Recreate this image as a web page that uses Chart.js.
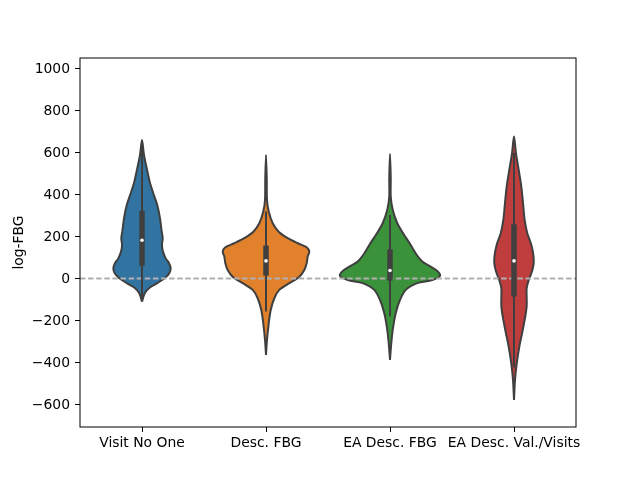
<!DOCTYPE html>
<html>
<head>
<meta charset="utf-8">
<script src="https://cdn.jsdelivr.net/npm/chart.js@4/dist/chart.umd.min.js"></script>
<style>
  body { margin: 0; background: #fff; }
  #wrap { width: 640px; height: 480px; }
</style>
</head>
<body>
<div id="wrap"><canvas id="violinChart" width="640" height="480"></canvas></div>
<script>
// categories and tick labels
const categories = ['Visit No One', 'Desc. FBG', 'EA Desc. FBG', 'EA Desc. Val./Visits'];
const yTicks = [-600, -400, -200, 0, 200, 400, 600, 800, 1000];
const refLine = 2;

// violin outlines: sample heights (top -> bottom) and half-widths in category units
const visitY = [662, 590, 527, 463, 408, 352, 289, 225, 194, 162, 130, 98, 75, 51, 27, 3, -20, -44, -68, -108];
const visitW = [0, .016, .038, .062, .091, .123, .145, .159, .167, .161, .169, .191, .218, .231, .220, .183, .123, .056, .022, 0];

const descY = [590, 480, 376, 321, 265, 225, 194, 170, 151, 130, 106, 75, 43, 11, -20, -52, -92, -148, -211, -290, -362];
const descW = [0, .006, .008, .022, .054, .102, .175, .256, .328, .349, .336, .328, .309, .269, .188, .107, .067, .038, .022, .008, 0];

const eaY = [595, 480, 392, 329, 265, 210, 162, 122, 83, 59, 35, 14, -5, -20, -52, -100, -163, -243, -322, -386];
const eaW = [0, .006, .006, .022, .059, .113, .167, .207, .260, .328, .387, .403, .341, .220, .127, .081, .046, .022, .008, 0];

const valY = [678, 598, 519, 440, 360, 281, 218, 162, 114, 75, 35, -5, -44, -84, -132, -195, -259, -322, -402, -481, -576];
const valW = [0, .016, .038, .059, .073, .086, .107, .140, .156, .159, .145, .119, .102, .102, .102, .086, .065, .043, .022, .008, 0];

// inner box stats: [whisker low, q1, median, q3, whisker high]
const visitBox = [-100, 63, 184, 324, 640];
const descBox = [-155, 16, 86, 159, 321];
const eaBox = [-179, -8, 40, 141, 305];
const valBox = [-420, -84, 86, 260, 600];

const colors = ['#3274a1', '#e1812c', '#3a923a', '#c03d3e'];
const ink = '#3f3f3f';

const violins = [[visitY, visitW], [descY, descW], [eaY, eaW], [valY, valW]];
const boxes = [visitBox, descBox, eaBox, valBox];

function outline(pos, ys, ws) {
    const pts = [];
    for (let k = ys.length - 1; k >= 0; k--) pts.push({ x: pos + ws[k], y: ys[k] });
    for (let k = 1; k < ys.length; k++) pts.push({ x: pos - ws[k], y: ys[k] });
    return pts;
}

const datasets = [];
violins.forEach(([ys, ws], i) => {
    datasets.push({
        data: outline(i, ys, ws),
        showLine: true,
        fill: 'shape',
        backgroundColor: colors[i],
        borderColor: ink,
        borderWidth: 2,
        tension: 0.3,
        pointRadius: 0,
        order: 4
    });
});

datasets.push({
    data: [{ x: -0.5, y: refLine }, { x: 3.5, y: refLine }],
    showLine: true,
    borderColor: '#b0b0b0',
    borderWidth: 1.9,
    borderDash: [5.5, 2.6],
    pointRadius: 0,
    order: 3
});

boxes.forEach((b, i) => {
    datasets.push({
        data: [{ x: i, y: b[0] }, { x: i, y: b[4] }],
        showLine: true,
        borderColor: ink,
        borderWidth: 2,
        pointRadius: 0,
        order: 2
    });
    datasets.push({
        data: [{ x: i, y: b[1] }, { x: i, y: b[3] }],
        showLine: true,
        borderColor: ink,
        borderWidth: 5.5,
        borderCapStyle: 'butt',
        pointRadius: 0,
        order: 1
    });
    datasets.push({
        data: [{ x: i, y: b[2] }],
        pointRadius: 1.8,
        pointBackgroundColor: '#ffffff',
        pointBorderWidth: 0,
        order: 0
    });
});

const frame = {
    id: 'frame',
    afterDatasetsDraw(chart) {
        const { ctx, chartArea: a } = chart;
        ctx.save();
        ctx.strokeStyle = '#000';
        ctx.lineWidth = 1;
        ctx.strokeRect(a.left, a.top, a.right - a.left, a.bottom - a.top);
        ctx.restore();
    }
};

const font = { family: 'DejaVu Sans', size: 13.9 };

new Chart(document.getElementById('violinChart').getContext('2d'), {
    type: 'scatter',
    data: { datasets },
    options: {
        responsive: false,
        animation: false,
        layout: { padding: { left: 0, top: 58, right: 64, bottom: 0 } },
        plugins: { legend: { display: false }, tooltip: { enabled: false } },
        scales: {
            x: {
                type: 'linear',
                min: -0.5,
                max: 3.5,
                afterFit: s => { s.height = 53; },
                afterBuildTicks: s => { s.ticks = categories.map((c, i) => ({ value: i })); },
                border: { display: false },
                grid: { drawOnChartArea: false, drawTicks: true, tickLength: 5, color: '#000' },
                ticks: { color: '#000', font, padding: 3, maxRotation: 0, autoSkip: false,
                    callback: v => categories[v] }
            },
            y: {
                min: -705,
                max: 1052,
                afterFit: s => { s.width = 80; },
                afterBuildTicks: s => { s.ticks = yTicks.map(v => ({ value: v })); },
                border: { display: false },
                grid: { drawOnChartArea: false, drawTicks: true, tickLength: 5, color: '#000' },
                ticks: { color: '#000', font, padding: 5,
                    callback: v => String(v).replace('-', '\u2212') },
                title: { display: true, text: 'log-FBG', color: '#000', font, padding: { top: 10.7, bottom: 0 } }
            }
        }
    },
    plugins: [frame]
});
</script>
</body>
</html>
